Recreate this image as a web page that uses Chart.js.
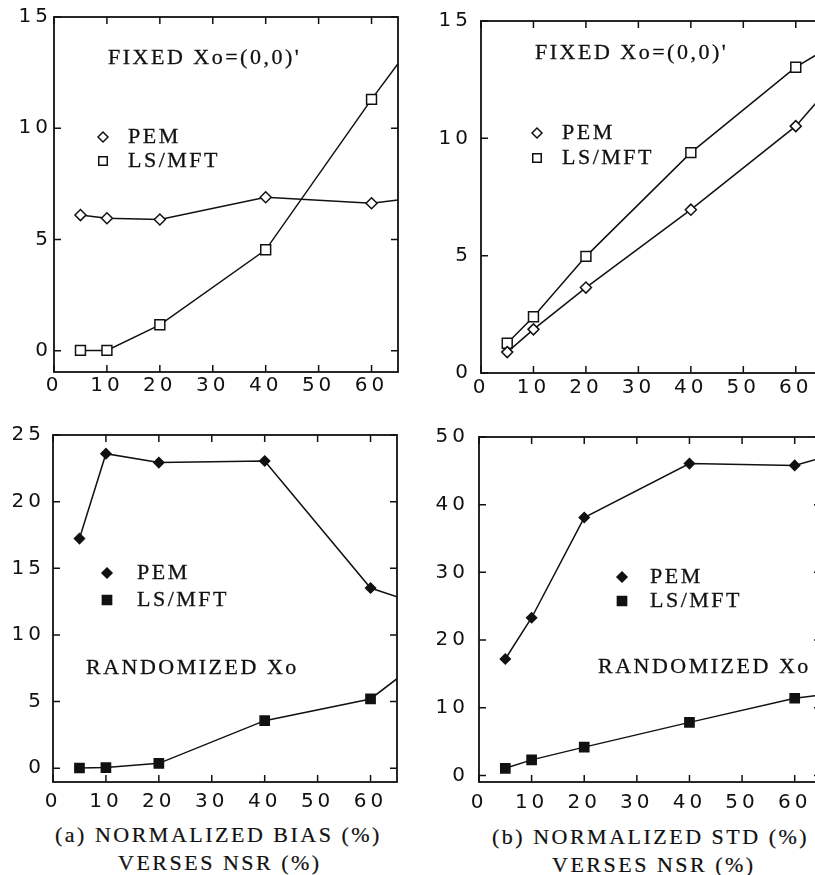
<!DOCTYPE html>
<html lang="en">
<head>
<meta charset="UTF-8">
<title>Normalized bias and STD verses NSR</title>
<script src="https://cdn.jsdelivr.net/npm/chart.js"></script>
<style>
  html, body { margin: 0; padding: 0; background: #fff; overflow: hidden; width: 815px; height: 875px; }
  canvas { position: absolute; }
  .caption {
    position: absolute;
    font-family: 'Liberation Serif', serif;
    font-size: 22px;
    line-height: 22px;
    letter-spacing: 2.5px;
    color: #111;
    -webkit-text-stroke: 0.2px #111;
    white-space: nowrap;
  }
</style>
</head>
<body>
<canvas id="biasFixed" width="410" height="410" style="left:0;top:0"></canvas>
<canvas id="stdFixed" width="425" height="410" style="left:410px;top:0"></canvas>
<canvas id="biasRand" width="410" height="400" style="left:0;top:415px"></canvas>
<canvas id="stdRand" width="425" height="400" style="left:410px;top:415px"></canvas>

<div class="caption" style="left:55px;top:824px">(a) NORMALIZED BIAS (%)</div>
<div class="caption" style="left:118px;top:852px">VERSES NSR (%)</div>
<div class="caption" style="left:492px;top:826px">(b) NORMALIZED STD (%)</div>
<div class="caption" style="left:552px;top:854px">VERSES NSR (%)</div>

<script>
// NSR (%) values; the last one is where each curve runs out of the frame
const nsr = [5, 10, 20, 40, 60, 65];

// fixed Xo = (0,0)'
const biasFixedPem = [6.1, 5.96, 5.9, 6.9, 6.63, 6.78];
const biasFixedLs  = [0.02, 0.02, 1.17, 4.54, 11.3, 12.9];
const stdFixedPem  = [0.89, 1.86, 3.64, 6.96, 10.52, 11.8];
const stdFixedLs   = [1.27, 2.4, 4.97, 9.39, 13.03, 13.7];

// randomized Xo
const biasRandPem = [17.23, 23.6, 22.93, 23.05, 13.52, 12.86];
const biasRandLs  = [0.02, 0.05, 0.37, 3.57, 5.2, 6.72];
const stdRandPem  = [17.2, 23.3, 38.1, 46.07, 45.8, 46.9];
const stdRandLs   = [1.05, 2.3, 4.18, 7.84, 11.4, 11.9];

// tick labels
const nsrTicks = [0, 10, 20, 30, 40, 50, 60];
const biasFixedTicks = [0, 5, 10, 15];
const stdFixedTicks = [0, 5, 10, 15];
const biasRandTicks = [0, 5, 10, 15, 20, 25];
const stdRandTicks = [0, 10, 20, 30, 40, 50];

const INK = '#111';
const TICK = 7;
const LAST_MARKED = 4; // index of last plotted marker

// frame with inward ticks on all four sides, plus the text notes and legend
const framePlugin = {
  id: 'frame',
  beforeDraw(chart) {
    chart.ctx.letterSpacing = '4px';
  },
  afterDraw(chart, args, opts) {
    const { ctx, chartArea: a } = chart;
    const x = chart.scales.x, y = chart.scales.y;
    ctx.save();
    ctx.strokeStyle = INK;
    ctx.lineWidth = 1.8;
    ctx.strokeRect(a.left, a.top, a.right - a.left, a.bottom - a.top);
    ctx.lineWidth = 1.5;
    ctx.beginPath();
    x.ticks.forEach(t => {
      const px = x.getPixelForValue(t.value);
      ctx.moveTo(px, a.bottom); ctx.lineTo(px, a.bottom - TICK);
      ctx.moveTo(px, a.top); ctx.lineTo(px, a.top + TICK);
    });
    y.ticks.forEach(t => {
      const py = y.getPixelForValue(t.value);
      ctx.moveTo(a.left, py); ctx.lineTo(a.left + TICK, py);
      ctx.moveTo(a.right, py); ctx.lineTo(a.right - TICK, py);
    });
    ctx.stroke();

    ctx.fillStyle = INK;
    ctx.font = '22px "Liberation Serif"';
    ctx.letterSpacing = '2.5px';
    ctx.textBaseline = 'middle';
    ctx.textAlign = 'left';
    const text = (s, tx, ty) => {
      ctx.lineWidth = 0.3;
      ctx.fillText(s, tx, ty);
      ctx.strokeText(s, tx, ty);
    };
    opts.notes.forEach(n => text(n.text, n.x, n.y));

    const lg = opts.legend;
    chart.data.datasets.forEach((ds, i) => {
      const yy = lg.y + i * lg.gap;
      ctx.fillStyle = ds.pointBackgroundColor;
      ctx.strokeStyle = INK;
      ctx.lineWidth = 1.5;
      Chart.helpers.drawPoint(ctx, {
        pointStyle: ds.pointStyle,
        radius: ds.pointStyle === 'rect' ? lg.rSquare : lg.rDiamond,
        rotation: 0,
        borderWidth: 1.5
      }, lg.x, yy);
      ctx.fillStyle = INK;
      text(ds.label, lg.x + lg.textGap, yy);
    });
    ctx.restore();
  }
};

function series(values) {
  return nsr.map((v, i) => ({ x: v, y: values[i] }));
}

function makePanel(id, p) {
  const fill = p.filled ? INK : '#fff';
  const mk = (label, vals, style, r) => ({
    label,
    data: series(vals),
    borderColor: INK,
    borderWidth: 1.5,
    pointStyle: style,
    pointRadius: c => (c.dataIndex <= LAST_MARKED ? r : 0),
    pointBackgroundColor: fill,
    pointBorderColor: INK,
    pointBorderWidth: 1.5,
    tension: 0
  });
  new Chart(document.getElementById(id), {
    type: 'line',
    data: {
      datasets: [
        mk('PEM', p.pem, 'rectRot', p.filled ? 5 : 5.5),
        mk('LS/MFT', p.ls, 'rect', p.filled ? 6.5 : 7)
      ]
    },
    options: {
      responsive: false,
      animation: false,
      layout: { padding: p.padding },
      plugins: {
        legend: { display: false },
        tooltip: { enabled: false },
        frame: { notes: p.notes, legend: p.legend }
      },
      scales: {
        x: {
          type: 'linear',
          min: 0, max: 65,
          afterBuildTicks: s => { s.ticks = nsrTicks.map(v => ({ value: v })); },
          afterFit: s => { s.height = 28; },
          grid: { display: false, drawTicks: false },
          border: { display: false },
          ticks: {
            color: INK, padding: p.xPad, autoSkip: false, maxRotation: 0,
            font: { family: 'DejaVu Sans', size: 20 }
          }
        },
        y: {
          min: p.yMin, max: p.yMax,
          afterBuildTicks: s => { s.ticks = p.yTicks.map(v => ({ value: v })); },
          afterFit: s => { s.width = p.axisWidth; },
          grid: { display: false, drawTicks: false },
          border: { display: false },
          ticks: {
            color: INK, padding: p.yPad,
            font: { family: 'DejaVu Sans', size: 20 }
          }
        }
      }
    },
    plugins: [framePlugin]
  });
}

makePanel('biasFixed', {
  pem: biasFixedPem, ls: biasFixedLs, filled: false,
  yMin: -0.95, yMax: 15, yTicks: biasFixedTicks,
  axisWidth: 54, yPad: 2, xPad: 2,
  padding: { left: 0, top: 17, right: 12, bottom: 10 },
  notes: [{ text: "FIXED Xo=(0,0)'", x: 108, y: 58 }],
  legend: { x: 103, y: 137, gap: 24, textGap: 25, rDiamond: 5, rSquare: 6 }
});

makePanel('stdFixed', {
  pem: stdFixedPem, ls: stdFixedLs, filled: false,
  yMin: 0, yMax: 15, yTicks: stdFixedTicks,
  axisWidth: 71, yPad: 9, xPad: 3,
  padding: { left: 0, top: 19, right: 13, bottom: 9 },
  notes: [{ text: "FIXED Xo=(0,0)'", x: 125, y: 53 }],
  legend: { x: 127, y: 133, gap: 25, textGap: 25, rDiamond: 5, rSquare: 6 }
});

makePanel('biasRand', {
  pem: biasRandPem, ls: biasRandLs, filled: true,
  yMin: -1.03, yMax: 25, yTicks: biasRandTicks,
  axisWidth: 53, yPad: 8, xPad: 8,
  padding: { left: 0, top: 12, right: 13, bottom: 5 },
  notes: [{ text: 'RANDOMIZED Xo', x: 86, y: 253 }],
  legend: { x: 107, y: 158, gap: 27, textGap: 30, rDiamond: 5, rSquare: 6.5 }
});

makePanel('stdRand', {
  pem: stdRandPem, ls: stdRandLs, filled: true,
  yMin: -0.97, yMax: 50, yTicks: stdRandTicks,
  axisWidth: 69, yPad: 10, xPad: 9,
  padding: { left: 0, top: 13, right: 14, bottom: 5 },
  notes: [{ text: 'RANDOMIZED Xo', x: 188, y: 252 }],
  legend: { x: 212, y: 162, gap: 24, textGap: 28, rDiamond: 5, rSquare: 6.5 }
});
</script>
</body>
</html>
